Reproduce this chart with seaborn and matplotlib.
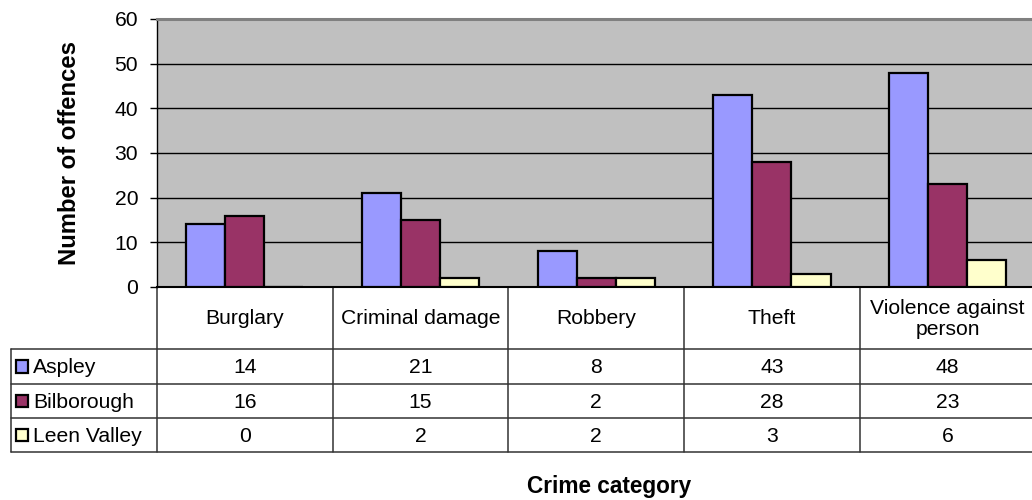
import textwrap

import matplotlib
matplotlib.use("Agg")
import matplotlib.pyplot as plt
from matplotlib.patches import Rectangle
import pandas as pd
import seaborn as sns

# Offences per crime category, by ward
categories = ["Burglary", "Criminal damage", "Robbery", "Theft", "Violence against person"]
wards = ["Aspley", "Bilborough", "Leen Valley"]
aspley = [14, 21, 8, 43, 48]
bilborough = [16, 15, 2, 28, 23]
leen_valley = [0, 2, 2, 3, 6]
ward_colors = ["#9999FF", "#993366", "#FFFFCC"]
y_ticks = [0, 10, 20, 30, 40, 50, 60]

sns.set_style("white")
plt.rcParams["font.family"] = ["Liberation Sans", "DejaVu Sans"]
plt.rcParams["text.color"] = "black"
plt.rcParams["axes.labelcolor"] = "black"
plt.rcParams["ytick.color"] = "black"
plt.rcParams["xtick.color"] = "black"

W, H = 1032, 500
fig = plt.figure(figsize=(W / 100, H / 100), dpi=100)
fig.patch.set_facecolor("white")


def box(x0, y0, x1, y1):
    """Pixel box measured from the top-left corner -> figure-fraction rect."""
    return [x0 / W, 1 - y1 / H, (x1 - x0) / W, (y1 - y0) / H]


PLOT_L, PLOT_T, PLOT_B = 157, 19, 287
COL_W = 175.7  # width of one category band in pixels

ax = fig.add_axes(box(PLOT_L, PLOT_T, W, PLOT_B))

series = [aspley, bilborough, leen_valley]
df = pd.DataFrame({
    "category": categories * len(wards),
    "ward": [w for w in wards for _ in categories],
    "offences": [v for s in series for v in s],
})

ax.set_facecolor("#C0C0C0")
ax.yaxis.grid(True, color="black", linewidth=1)
ax.set_axisbelow(True)

sns.barplot(
    data=df, x="category", y="offences", hue="ward",
    order=categories, hue_order=wards, palette=ward_colors,
    width=0.667, saturation=1, edgecolor="black", linewidth=1.6,
    legend=False, ax=ax, zorder=3,
)

ax.set_xlim(-0.5, -0.5 + (W - PLOT_L) / COL_W)
ax.set_ylim(0, 60)
ax.set_yticks(y_ticks)
ax.set_xticks([])
ax.set_xlabel("")
ax.set_ylabel("Number of offences", fontsize=17.2, fontweight="bold")
ax.yaxis.set_label_coords((81 - PLOT_L) / (W - PLOT_L), 0.5)
ax.tick_params(axis="y", direction="out", length=5, width=1, color="black",
               labelcolor="black", labelsize=15.2, pad=8.5, left=True)

for side in ("left", "bottom"):
    ax.spines[side].set_visible(True)
    ax.spines[side].set_color("black")
ax.spines["left"].set_linewidth(1)
ax.spines["bottom"].set_linewidth(1.5)
ax.spines["top"].set_visible(True)
ax.spines["top"].set_color("#808080")
ax.spines["top"].set_linewidth(2.2)
ax.spines["right"].set_visible(False)

# ---- data table under the plot, drawn in pixel coordinates ----
tab = fig.add_axes([0, 0, 1, 1], zorder=-1)
tab.set_xlim(0, W)
tab.set_ylim(H, 0)
tab.axis("off")

col_edges = [ax.transData.transform((i - 0.5, 0))[0] for i in range(len(categories) + 1)]
row_edges = [349, 384, 418, 452]
TABLE_L = 11
line_kw = dict(color="#333333", linewidth=1.1)

for x in col_edges:
    tab.plot([x, x], [PLOT_B, row_edges[-1]], **line_kw)
tab.plot([TABLE_L, TABLE_L], [row_edges[0], row_edges[-1]], **line_kw)
for y in row_edges:
    tab.plot([TABLE_L, W], [y, y], **line_kw)

FS = 15.2
for i, name in enumerate(categories):
    cx = (col_edges[i] + col_edges[i + 1]) / 2
    tab.text(cx, (PLOT_B + row_edges[0]) / 2 + 1, textwrap.fill(name, 16),
             ha="center", va="center", fontsize=FS, linespacing=1.1)

for r, (ward, vals, color) in enumerate(zip(wards, series, ward_colors)):
    cy = (row_edges[r] + row_edges[r + 1]) / 2
    tab.add_patch(Rectangle((15.5, cy - 6.5), 12.5, 12.5, facecolor=color,
                            edgecolor="black", linewidth=1.6))
    tab.text(33, cy + 1, ward, ha="left", va="center", fontsize=FS)
    for i, v in enumerate(vals):
        cx = (col_edges[i] + col_edges[i + 1]) / 2
        tab.text(cx, cy + 1, str(v), ha="center", va="center", fontsize=FS)

tab.text(609, 486, "Crime category", ha="center", va="center",
         fontsize=16.3, fontweight="bold")

fig.savefig("out.png", dpi=100, facecolor="white")
